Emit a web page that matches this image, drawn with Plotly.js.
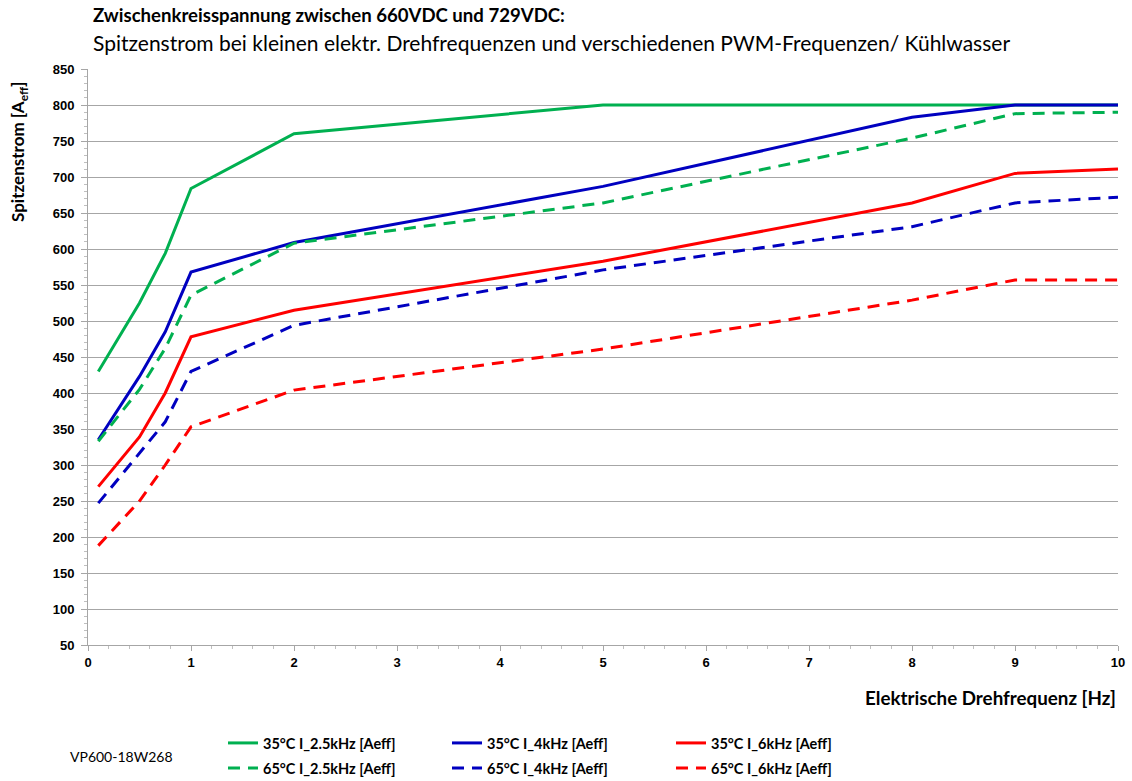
<!DOCTYPE html>
<html>
<head>
<meta charset="utf-8">
<script src="https://cdn.plot.ly/plotly-3.0.1.min.js"></script>
<style>html,body{margin:0;padding:0;background:#fff;}#chart{width:1132px;height:781px;}</style>
</head>
<body>
<div id="chart"></div>
<script>
// Data
const freq = [0.1, 0.5, 0.75, 1, 2, 5, 8, 9, 10];
const s35_2k5 = [430, 525, 594, 684, 760, 800, 800, 800, 800];
const s35_4k  = [335, 423, 485, 568, 609, 687, 783, 800, 800];
const s35_6k  = [270, 339, 400, 478, 515, 583, 664, 705, 711];
const s65_2k5 = [333, 405, 462, 536, 608, 664, 754, 788, 790];
const s65_4k  = [247, 316, 360, 430, 494, 571, 631, 664, 672];
const s65_6k  = [188, 250, 300, 353, 404, 461, 529, 557, 557];
const seriesNames = [
  "35°C I_2.5kHz [Aeff]", "35°C I_4kHz [Aeff]", "35°C I_6kHz [Aeff]",
  "65°C I_2.5kHz [Aeff]", "65°C I_4kHz [Aeff]", "65°C I_6kHz [Aeff]"
];
const xTicks = [0,1,2,3,4,5,6,7,8,9,10];
const yTicks = [50,100,150,200,250,300,350,400,450,500,550,600,650,700,750,800,850];

const GREEN = "#00B050", BLUE = "#0000C0", RED = "#FF0000";
const DASH = "12px,8px";
const allY = [s35_2k5, s35_4k, s35_6k, s65_2k5, s65_4k, s65_6k];
const colors = [GREEN, BLUE, RED, GREEN, BLUE, RED];

const traces = allY.map((ys, i) => ({
  x: freq, y: ys, type: "scatter", mode: "lines",
  name: seriesNames[i],
  legend: i < 3 ? "legend" : "legend2",
  line: {color: colors[i], width: 3, dash: i < 3 ? "solid" : DASH},
  hoverinfo: "x+y+name"
}));

const FONT = "Lato, 'Open Sans', sans-serif";
const TICKFONT = {family: "'Liberation Sans', Arial, sans-serif", size: 13, color: "#000"};
const legendCommon = {
  orientation: "h", xref: "paper", yref: "container",
  x: (223 - 88) / 1030, xanchor: "left", yanchor: "middle",
  entrywidth: 179, entrywidthmode: "pixels",
  font: {family: FONT, size: 14.5, color: "#000", weight: "bold"},
  bgcolor: "rgba(0,0,0,0)", borderwidth: 0, tracegroupgap: 0,
  itemwidth: 30
};

const layout = {
  width: 1132, height: 781,
  margin: {l: 88, r: 14, t: 69, b: 136},
  paper_bgcolor: "#fff", plot_bgcolor: "#fff",
  showlegend: true,
  legend: Object.assign({}, legendCommon, {y: 1 - 743 / 781}),
  legend2: Object.assign({}, legendCommon, {y: 1 - 768 / 781}),
  xaxis: {
    range: [0, 10], tickvals: xTicks, ticktext: xTicks.map(String),
    showgrid: false, zeroline: false,
    showline: true, linecolor: "#a6a6a6", linewidth: 1,
    ticks: "outside", ticklen: 5, tickcolor: "#a6a6a6",
    minor: {dtick: 0.2, ticks: "outside", ticklen: 3, tickcolor: "#bfbfbf"},
    tickfont: Object.assign({weight: "bold"}, TICKFONT),
    fixedrange: true
  },
  yaxis: {
    range: [50, 850], tickvals: yTicks, ticktext: yTicks.map(String),
    showgrid: true, gridcolor: "#a6a6a6", gridwidth: 1,
    zeroline: false,
    showline: true, linecolor: "#a6a6a6", linewidth: 1,
    ticks: "outside", ticklen: 6, tickcolor: "#a6a6a6",
    minor: {dtick: 10, ticks: "outside", ticklen: 3, tickcolor: "#bfbfbf", showgrid: false},
    tickfont: Object.assign({weight: "bold"}, TICKFONT),
    ticklabelstandoff: 4,
    fixedrange: true
  },
  annotations: [
    {text: "<b>Zwischenkreisspannung zwischen 660VDC und 729VDC:</b>",
     xref: "paper", yref: "paper", x: (91 - 88) / 1030, y: (645 - 15) / 576,
     xanchor: "left", yanchor: "middle", showarrow: false,
     font: {family: FONT, size: 18.6, color: "#000"}},
    {text: "Spitzenstrom bei kleinen elektr. Drehfrequenzen und verschiedenen PWM-Frequenzen/ Kühlwasser",
     xref: "paper", yref: "paper", x: (91 - 88) / 1030, y: (645 - 42) / 576,
     xanchor: "left", yanchor: "middle", showarrow: false,
     font: {family: FONT, size: 21, color: "#000"}},
    {text: "<b>Spitzenstrom [A<sub>eff</sub>]</b>",
     xref: "paper", yref: "paper", x: (19 - 88) / 1030, y: (645 - 152) / 576,
     xanchor: "center", yanchor: "middle", textangle: -90, showarrow: false,
     font: {family: FONT, size: 17, color: "#000"}},
    {text: "<b>Elektrische Drehfrequenz [Hz]</b>",
     xref: "paper", yref: "paper", x: 1, y: (645 - 697) / 576,
     xanchor: "right", yanchor: "middle", showarrow: false,
     font: {family: FONT, size: 18.8, color: "#000"}},
    {text: "VP600-18W268",
     xref: "paper", yref: "paper", x: (68 - 88) / 1030, y: (645 - 756) / 576,
     xanchor: "left", yanchor: "middle", showarrow: false,
     font: {family: FONT, size: 14, color: "#000"}}
  ]
};

Plotly.newPlot("chart", traces, layout, {displayModeBar: false, staticPlot: true});
</script>
</body>
</html>
